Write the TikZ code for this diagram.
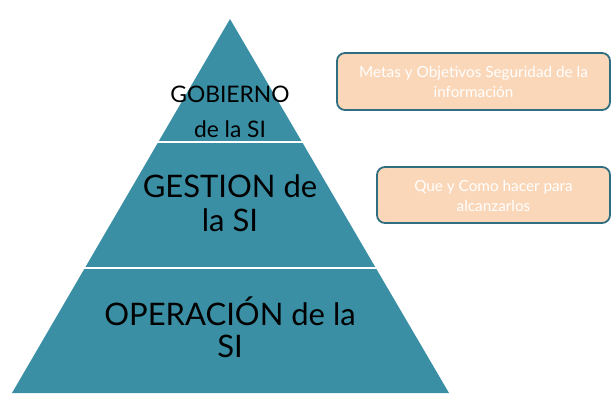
\documentclass[tikz,border=0pt]{standalone}
\usepackage{fontspec}
\setmainfont{Lato}
\definecolor{pyr}{RGB}{58,143,165}
\definecolor{boxfill}{RGB}{251,215,185}
\definecolor{boxdraw}{RGB}{47,110,128}
\tikzset{
  layer/.style={fill=pyr, draw=none},
  sep/.style={draw=white, line width=2.2pt},
  lbl/.style={inner sep=0pt, anchor=base, text=black},
  infobox/.style={draw=boxdraw, line width=1.8pt, fill=boxfill, rounded corners=8pt},
  boxtxt/.style={inner sep=0pt, anchor=base, text=white, font=\fontsize{15.3}{18}\selectfont}
}
\begin{document}
\begin{tikzpicture}[x=1pt,y=-1pt]
\useasboundingbox (0,0) rectangle (615,403);
% pyramid
\coordinate (apex) at (230,19);
\coordinate (bl) at (12,393);
\coordinate (br) at (449,393);
\fill[layer] (apex) -- (bl) -- (br) -- cycle;
\coordinate (s1l) at (150,142);
\coordinate (s1r) at (310,142);
\coordinate (s2l) at (75,268);
\coordinate (s2r) at (385,268);
\draw[sep] (s1l) -- (s1r);
\draw[sep] (s2l) -- (s2r);
% labels
\node[lbl, font=\fontsize{22.8}{24}\selectfont] (g1) at (230,103) {GOBIERNO};
\node[lbl, font=\fontsize{22.8}{24}\selectfont] (g2) at (230,138) {de la SI};
\node[lbl, font=\fontsize{31}{34}\selectfont] (m1) at (230,198) {GESTION de};
\node[lbl, font=\fontsize{31}{34}\selectfont] (m2) at (230,232) {la SI};
\node[lbl, font=\fontsize{31}{34}\selectfont] (o1) at (230,325) {OPERACIÓN de la};
\node[lbl, font=\fontsize{31}{34}\selectfont] (o2) at (230,357) {SI};
% boxes
\draw[infobox] (337,53) rectangle (610,110);
\node[boxtxt] (b1a) at (473.5,78) {Metas y Objetivos Seguridad de la};
\node[boxtxt] (b1b) at (473.5,98) {información};
\draw[infobox] (377,167) rectangle (610,223);
\node[boxtxt] (b2a) at (493.5,192) {Que y Como hacer para};
\node[boxtxt] (b2b) at (493.5,212) {alcanzarlos};
\end{tikzpicture}
\end{document}
